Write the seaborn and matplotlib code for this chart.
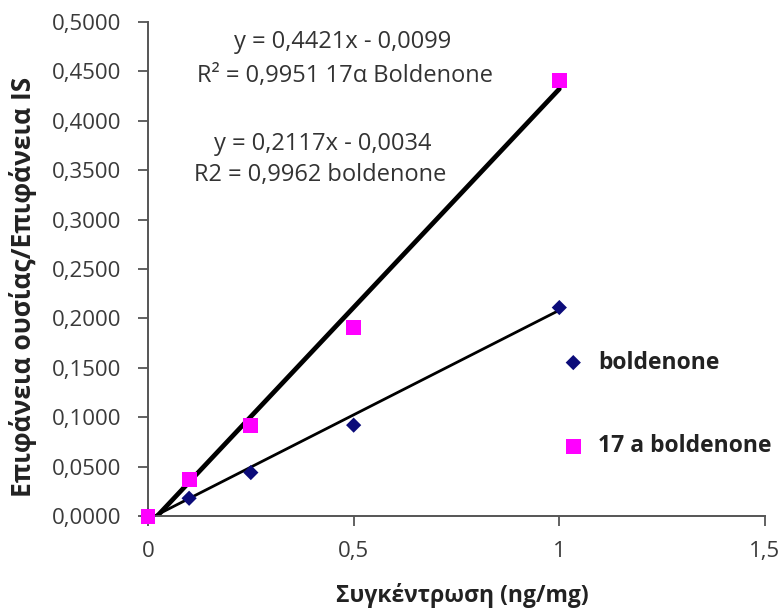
import matplotlib
matplotlib.use("Agg")
import matplotlib.pyplot as plt
import seaborn as sns
import numpy as np
import pandas as pd
from matplotlib.ticker import FuncFormatter, MultipleLocator

sns.set_theme(style="ticks")
plt.rcParams['font.family'] = ['Open Sans', 'DejaVu Sans']

conc = [0, 0.1, 0.25, 0.5, 1.0]
boldenone = [0.0, 0.018, 0.044, 0.092, 0.211]
alpha_boldenone = [0.0, 0.037, 0.092, 0.191, 0.441]
series_names = ["boldenone", "17 a boldenone"]
series_colors = ["#0c0c7a", "#ff00ff"]
slopes = [0.2117, 0.4421]
intercepts = [-0.0034, -0.0099]
eq_lines = ["y = 0,4421x - 0,0099", "R² = 0,9951 17α Boldenone",
            "y = 0,2117x - 0,0034", "R2 = 0,9962 boldenone"]
xlabel = "Συγκέντρωση (ng/mg)"
ylabel = "Επιφάνεια ουσίας/Επιφάνεια IS"

df = pd.DataFrame({
    "x": conc * 2,
    "y": boldenone + alpha_boldenone,
    "series": [series_names[0]] * len(conc) + [series_names[1]] * len(conc),
})

fig = plt.figure(figsize=(7.83, 6.10), dpi=100)
ax = fig.add_axes([0.189, 0.154, 0.788, 0.81])

# trendlines
fit_x = np.array([0.0, 1.0])
for s, b, lw in zip(slopes, intercepts, [2.0, 3.4]):
    sns.lineplot(x=fit_x, y=s * fit_x + b, ax=ax, color="black", linewidth=lw, zorder=2)

for name, col, mk, ms in [(series_names[0], series_colors[0], "D", 60),
                          (series_names[1], series_colors[1], "s", 115)]:
    sub = df[df.series == name]
    sns.scatterplot(x=sub.x, y=sub.y, ax=ax, color=col, marker=mk, s=ms,
                    edgecolor="none", clip_on=False, zorder=3, label=name)

ax.set_xlim(0, 1.5)
ax.set_ylim(0, 0.5)
ax.xaxis.set_major_locator(MultipleLocator(0.5))
ax.yaxis.set_major_locator(MultipleLocator(0.05))
ax.xaxis.set_major_formatter(FuncFormatter(lambda v, p: ("%g" % v).replace(".", ",")))
ax.yaxis.set_major_formatter(FuncFormatter(lambda v, p: ("%.4f" % v).replace(".", ",")))
ax.tick_params(axis="both", labelsize=16, direction="out", length=7, width=1.3,
               color="#555555", labelcolor="#3a3a3a")
ax.tick_params(axis="y", pad=12)
ax.tick_params(axis="x", pad=11)
sns.despine(ax=ax)
for sp in ["left", "bottom"]:
    ax.spines[sp].set_color("#555555")
    ax.spines[sp].set_linewidth(1.4)

ax.set_xlabel(xlabel, fontsize=16.5, fontweight="bold", color="#222222")
ax.set_ylabel(ylabel, fontsize=19, fontweight="bold", color="#222222")
ax.xaxis.set_label_coords(0.51, -0.135)
ax.yaxis.set_label_coords(-0.18, 0.464)

eq_pos = [(0.472, 0.480), (0.479, 0.445), (0.425, 0.377), (0.418, 0.345)]
for (px, py), line in zip(eq_pos, eq_lines):
    ax.text(px, py, line, ha="center", va="center", fontsize=17, color="#333333")

leg = ax.legend(loc="center left", bbox_to_anchor=(0.628, 0.226), frameon=False,
                labelspacing=2.6, handletextpad=0.35, handlelength=1.5,
                prop={"size": 16.5, "weight": "bold"})
for t in leg.get_texts():
    t.set_color("#222222")

fig.savefig("out.png", dpi=100)
